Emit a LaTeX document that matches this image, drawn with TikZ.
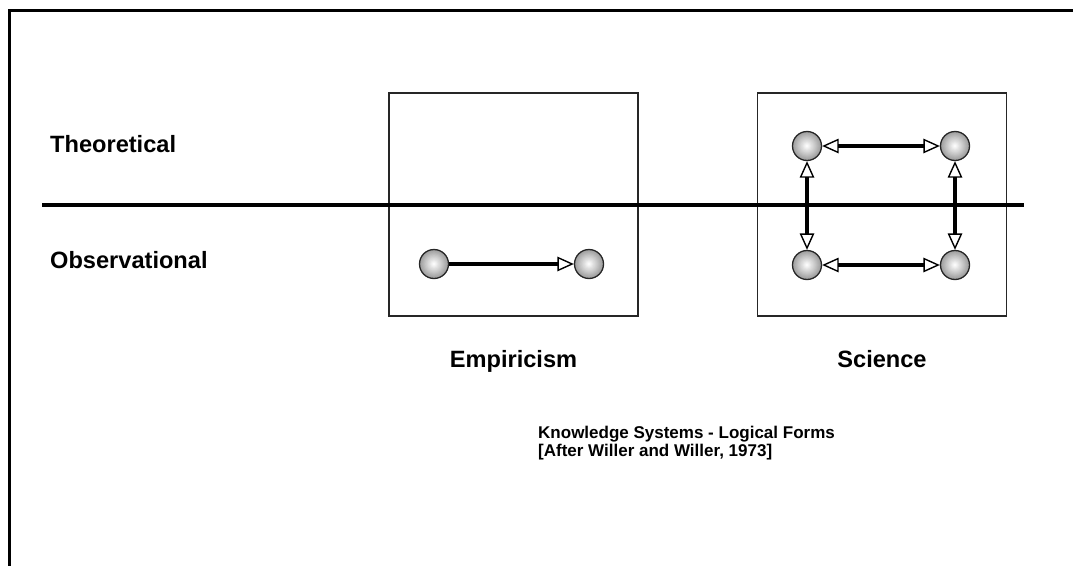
\documentclass[tikz,border=0pt]{standalone}
\usepackage{fontspec}
\setmainfont{Liberation Sans}
\usetikzlibrary{arrows.meta}
\begin{document}
\begin{tikzpicture}[x=1pt,y=-1pt,
  opentip/.tip={Triangle[fill=white,length=16.5pt,width=14.5pt,line width=1.4pt]},
  ball/.style={circle, draw=black!85, line width=1.3pt, minimum size=29pt, inner sep=0pt,
    path picture={
      \foreach \k in {0,...,24}{
        \pgfmathsetmacro\rr{15*(1-\k/25)}
        \pgfmathsetmacro\cc{40*(1-\k/24)}
        \fill[black!\cc] (path picture bounding box.center) circle (\rr pt);
      }}},
  conn/.style={draw=black, line width=4pt},
  panel/.style={draw=black!85, line width=1.3pt, minimum width=249pt, minimum height=223pt, inner sep=0pt},
  biglabel/.style={font=\bfseries\fontsize{23.6}{28}\selectfont, inner sep=0pt},
  caption/.style={font=\bfseries\fontsize{17}{18.3}\selectfont, inner sep=0pt, align=left}]
\useasboundingbox (0,0) rectangle (1073,565);
% frame
\coordinate (fbl) at (9.3,566);
\coordinate (ftl) at (9.3,10.7);
\coordinate (ftr) at (1074,10.7);
\draw[line width=3pt] (fbl) -- (ftl) -- (ftr);
% boxes
\node[panel] (emp) at (513.5,204.5) {};
\node[panel] (sci) at (882,204.5) {};
% divider
\coordinate (dl) at (42,205);
\coordinate (dr) at (1024,205);
\draw[line width=3.4pt] (dl) -- (dr);
% labels
\node[biglabel, anchor=base west] (theo) at (50,152) {Theoretical};
\node[biglabel, anchor=base west] (obs) at (50,268) {Observational};
\node[biglabel, anchor=base] (empl) at (513.5,367) {Empiricism};
\node[biglabel, anchor=base] (scil) at (882,367) {Science};
\node[caption, anchor=north west] (cap) at (538,425.9) {Knowledge Systems - Logical Forms\\{[After Willer and Willer, 1973]}};
% empiricism balls
\node[ball] (e1) at (434,264) {};
\node[ball] (e2) at (589,264) {};
\draw[conn,-opentip] (e1) -- (e2);
% science balls
\node[ball] (tl) at (807,146) {};
\node[ball] (tr) at (955,146) {};
\node[ball] (bl) at (807,265) {};
\node[ball] (br) at (955,265) {};
\draw[conn,opentip-opentip] (tl) -- (tr);
\draw[conn,opentip-opentip] (bl) -- (br);
\draw[conn,opentip-opentip] (tl) -- (bl);
\draw[conn,opentip-opentip] (tr) -- (br);
\end{tikzpicture}
\end{document}
